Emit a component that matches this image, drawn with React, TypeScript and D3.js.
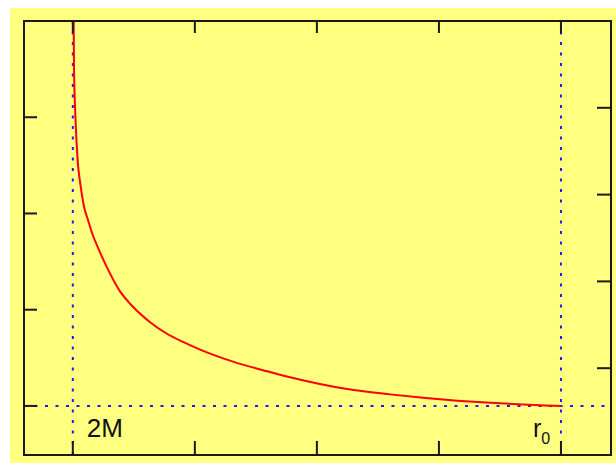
import React from "react";
import * as d3 from "d3";

// r in units of 2M, value of the plotted quantity
const curveR = [1.004, 1.01, 1.02, 1.03, 1.043, 1.059, 1.075, 1.092, 1.125, 1.157, 1.215, 1.272, 1.387, 1.493, 1.633, 1.772, 1.903, 2.043, 2.313, 2.592, 2.805, 3.247, 3.6, 3.87, 4.15, 4.42, 4.69, 4.87, 5.0];
const curveF = [4.4, 3.5, 3.05, 2.76, 2.5, 2.33, 2.19, 2.07, 1.93, 1.8, 1.62, 1.46, 1.19, 1.03, 0.87, 0.75, 0.665, 0.585, 0.46, 0.36, 0.29, 0.175, 0.12, 0.085, 0.055, 0.032, 0.015, 0.005, 0];

const xTicks = [1, 2, 3, 4, 5];
const leftTicks = [0, 1, 2, 3, 4];
const rightTicks = [0, 1, 2, 3, 4, 5];
const horizonR = 1; // 2M
const startR = 5; // r0
const zeroLevel = 0;

const W = 616;
const H = 463;
const L = 24, R = 611, T = 21, B = 455;

export default function App() {
  const x = d3.scaleLinear().domain([0.6, 5.41]).range([L, R]);
  const y = d3.scaleLinear().domain([-0.51, 4]).range([B, T]);
  const yR = d3.scaleLinear().domain([0, 5]).range([B, T]);
  const pts = curveR.map((r, i) => [r, curveF[i]] as [number, number]);
  const line = d3
    .line<[number, number]>()
    .x((d) => x(d[0]))
    .y((d) => y(d[1]))
    .curve(d3.curveMonotoneX);
  const dash = "3 7.5";
  const blue = "#1c1cf0";
  const axisColor = "#1a1a1a";
  return (
    <svg width={W} height={H} style={{ position: "absolute", left: 0, top: 0 }}>
      <defs>
        <clipPath id="plot">
          <rect x={L} y={T} width={R - L} height={B - T} />
        </clipPath>
      </defs>
      <rect x={10} y={8} width={W - 10} height={H - 8} fill="#ffff80" />
      {/* dotted guides */}
      <line x1={x(horizonR)} x2={x(horizonR)} y1={T} y2={B} stroke={blue} strokeWidth={2} strokeDasharray={dash} />
      <line x1={x(startR)} x2={x(startR)} y1={T} y2={B} stroke={blue} strokeWidth={2} strokeDasharray={dash} />
      <line x1={L} x2={R} y1={y(zeroLevel)} y2={y(zeroLevel)} stroke={blue} strokeWidth={2} strokeDasharray={dash} />
      {/* curve */}
      <path d={line(pts) || ""} fill="none" stroke="#ff0000" strokeWidth={2} clipPath="url(#plot)" />
      {/* frame */}
      <rect x={L} y={T} width={R - L} height={B - T} fill="none" stroke={axisColor} strokeWidth={2} />
      {xTicks.map((t) => (
        <g key={"x" + t}>
          <line x1={x(t)} x2={x(t)} y1={B} y2={B - 14} stroke={axisColor} strokeWidth={2} />
          <line x1={x(t)} x2={x(t)} y1={T} y2={T + 12} stroke={axisColor} strokeWidth={2} />
        </g>
      ))}
      {leftTicks.map((t) => (
        <line key={"l" + t} x1={L} x2={L + 13} y1={y(t)} y2={y(t)} stroke={axisColor} strokeWidth={2} />
      ))}
      {rightTicks.map((t) => (
        <line key={"r" + t} x1={R} x2={R - 14} y1={yR(t)} y2={yR(t)} stroke={axisColor} strokeWidth={2} />
      ))}
      {/* labels */}
      <text x={x(horizonR) + 14} y={437} fontFamily="Liberation Sans, Arial, sans-serif" fontSize={26} fill="#111">
        2M
      </text>
      <text x={x(startR) - 28} y={437} fontFamily="Liberation Sans, Arial, sans-serif" fontSize={25} fill="#111">
        r<tspan fontSize={16} dy={7}>0</tspan>
      </text>
    </svg>
  );
}
